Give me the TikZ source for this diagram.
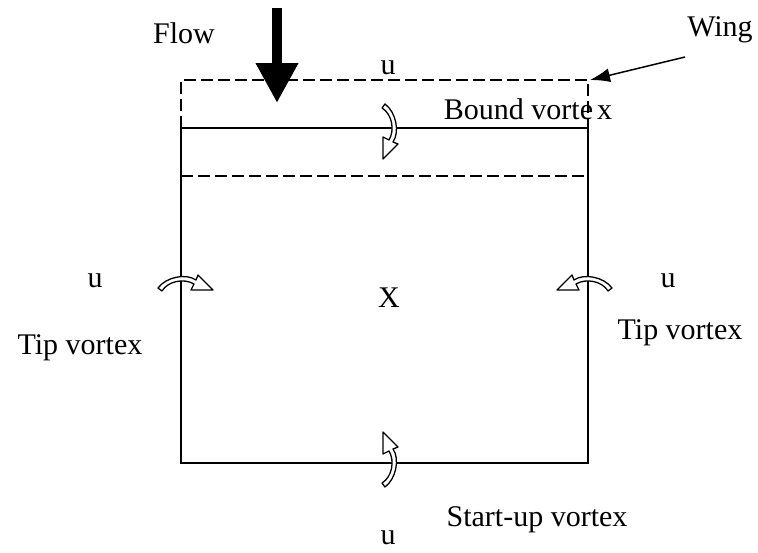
\documentclass[tikz,border=0pt]{standalone}
\usepackage{fontspec}
\setmainfont{Liberation Serif}
\usetikzlibrary{arrows.meta, positioning}

\begin{document}
\begin{tikzpicture}[x=1pt, y=-1pt,
    lbl/.style={inner sep=0pt, font=\fontsize{30}{36}\selectfont},
    edge/.style={line width=1.8pt},
    wingline/.style={line width=1.8pt, dash pattern=on 12pt off 5pt},
    vortex/.pic={
        \filldraw[fill=white, line width=1.3pt, line join=round]
            (-5,-24) .. controls (6,-16) and (10,4) .. (3,14)
            -- (8,16) -- (-7,31) -- (-7,9) -- (-1,12)
            .. controls (5,2) and (2,-14) .. (-8,-20) -- cycle;
    }]
    \useasboundingbox (0,0) rectangle (758,552);

    % 1. Cánh (đường nét đứt) và vùng xoáy
    \draw[wingline] (181,128) -- (181,80) -- (588,80) -- (588,128);
    \draw[wingline] (181,176) -- (588,176);
    \draw[edge] (181,128) rectangle (588,463);

    % 2. Các xoáy
    \pic at (390,128) {vortex};
    \pic[yscale=-1] at (390,463) {vortex};
    \pic[cm={0,1,-1,0,(0,0)}] at (182,283) {vortex};
    \pic[cm={0,1,1,0,(0,0)}] at (588,283) {vortex};

    % 3. Dòng chảy
    \coordinate (flowtop) at (277,8);
    \coordinate (flowtip) at (277,103);
    \draw[line width=10pt, -{Triangle[length=40pt, width=40pt]}] (flowtop) -- (flowtip);
    \node[lbl] (flow) at (184,33) {Flow};

    % 4. Nhãn cánh
    \node[lbl] (wing) at (720,30) {Wing};
    \coordinate (wingfoot) at (685,57);
    \coordinate (corner) at (590,80);
    \draw[line width=1.5pt, -{Latex[length=20pt, width=14pt]}] (wingfoot) -- (corner);

    % 5. Các nhãn khác
    \node[lbl] (utop) at (388,68) {u};
    \node[lbl] (bound) at (528,109) {Bound vorte\hspace{4pt}x};
    \node[lbl] (cross) at (389,298) {X};
    \node[lbl] (uleft) at (95,281) {u};
    \node[lbl] (tipleft) at (80,348) {Tip vortex};
    \node[lbl] (uright) at (668,281) {u};
    \node[lbl] (tipright) at (680,333) {Tip vortex};
    \node[lbl] (startup) at (537,520) {Start-up vortex};
    \node[lbl] (ubottom) at (388,538) {u};
\end{tikzpicture}
\end{document}
